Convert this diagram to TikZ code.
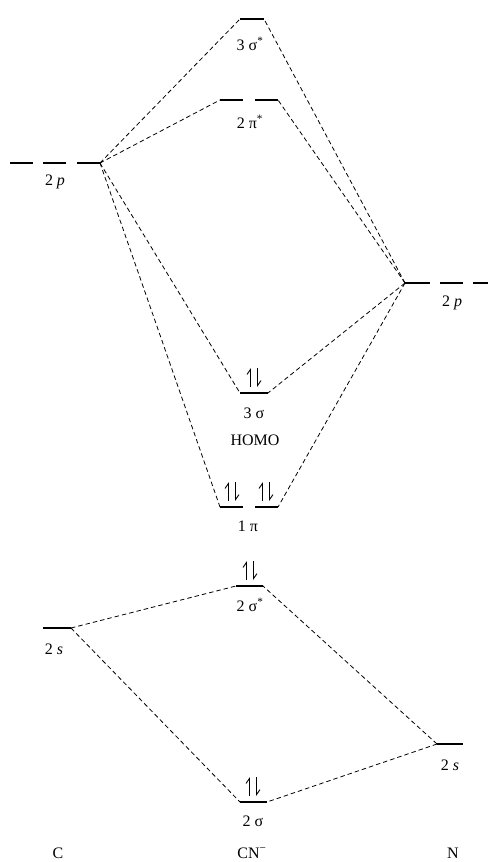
\documentclass[tikz,border=0pt]{standalone}
\usepackage{fontspec}
\setmainfont{Liberation Serif}
\usetikzlibrary{arrows.meta}
\tikzset{
  lvl/.style={line width=2pt},
  conn/.style={line width=0.8pt, dash pattern=on 4.5pt off 3pt},
  lab/.style={font=\fontsize{16}{19}\selectfont, inner sep=0pt},
  eup/.style={line width=0.9pt, -{Straight Barb[left, length=5pt, width=7pt]}},
  edn/.style={line width=0.9pt, -{Straight Barb[left, length=5pt, width=7pt]}},
}
\newcommand{\epair}[2]{%
  \draw[eup] (#1-3.5,#2-6) -- (#1-3.5,#2-25);
  \draw[edn] (#1+3.5,#2-25) -- (#1+3.5,#2-6);
}
\begin{document}
\begin{tikzpicture}[x=1pt,y=-1pt]
\useasboundingbox (0,0) rectangle (488,862);
% ---- levels ----
% C 2p
\draw[lvl] (10,163) -- (33,163);
\draw[lvl] (43,163) -- (66,163);
\draw[lvl] (77,163) -- (100,163);
\coordinate (c2pR) at (100,163);
% 3 sigma*
\draw[lvl] (240,19) -- (264,19);
\coordinate (s3sL) at (240,19); \coordinate (s3sR) at (264,19);
% 2 pi*
\draw[lvl] (220,100) -- (243,100);
\draw[lvl] (255,100) -- (278,100);
\coordinate (p2sL) at (220,100); \coordinate (p2sR) at (278,100);
% N 2p
\draw[lvl] (405,283) -- (430,283);
\draw[lvl] (440,283) -- (463,283);
\draw[lvl] (473,283) -- (488,283);
\coordinate (n2pL) at (405,283);
% 3 sigma
\draw[lvl] (240,393) -- (268,393);
\coordinate (s3L) at (240,393); \coordinate (s3R) at (268,393);
% 1 pi
\draw[lvl] (220,507) -- (243,507);
\draw[lvl] (255,507) -- (278,507);
\coordinate (p1L) at (220,507); \coordinate (p1R) at (278,507);
% 2 sigma*
\draw[lvl] (236,586) -- (263,586);
\coordinate (s2sL) at (236,586); \coordinate (s2sR) at (263,586);
% C 2s
\draw[lvl] (43,628) -- (71,628);
\coordinate (c2sR) at (71,628);
% N 2s
\draw[lvl] (437,744) -- (463,744);
\coordinate (n2sL) at (437,744);
% 2 sigma
\draw[lvl] (240,802) -- (267,802);
\coordinate (s2L) at (240,802); \coordinate (s2R) at (267,802);
% ---- connectors ----
\draw[conn] (c2pR) -- (s3sL);
\draw[conn] (c2pR) -- (p2sL);
\draw[conn] (c2pR) -- (s3L);
\draw[conn] (c2pR) -- (p1L);
\draw[conn] (n2pL) -- (s3sR);
\draw[conn] (n2pL) -- (p2sR);
\draw[conn] (n2pL) -- (s3R);
\draw[conn] (n2pL) -- (p1R);
\draw[conn] (c2sR) -- (s2sL);
\draw[conn] (c2sR) -- (s2L);
\draw[conn] (n2sL) -- (s2sR);
\draw[conn] (n2sL) -- (s2R);
% ---- electrons ----
\epair{254}{393}
\epair{232}{507}
\epair{266}{507}
\epair{250}{586}
\epair{253}{802}
% ---- labels ----
\node[lab] (lc2p) at (55,182) {2 \textit{p}};
\node[lab] (l3ss) at (250,44) {3 σ\textsuperscript{*}};
\node[lab] (l2ps) at (250,122) {2 π\textsuperscript{*}};
\node[lab] (ln2p) at (452,303) {2 \textit{p}};
\node[lab] (l3s) at (254,413) {3 σ};
\node[lab] (lhomo) at (255,440) {HOMO};
\node[lab] (l1p) at (248,526) {1 π};
\node[lab] (l2ss) at (250,605) {2 σ\textsuperscript{*}};
\node[lab] (lc2s) at (54,649) {2 \textit{s}};
\node[lab] (ln2s) at (450,765) {2 \textit{s}};
\node[lab] (l2s) at (253,821) {2 σ};
\node[lab] (lC) at (58,853) {C};
\node[lab] (lCN) at (252,853) {CN\textsuperscript{−}};
\node[lab] (lN) at (453,853) {N};
\end{tikzpicture}
\end{document}
